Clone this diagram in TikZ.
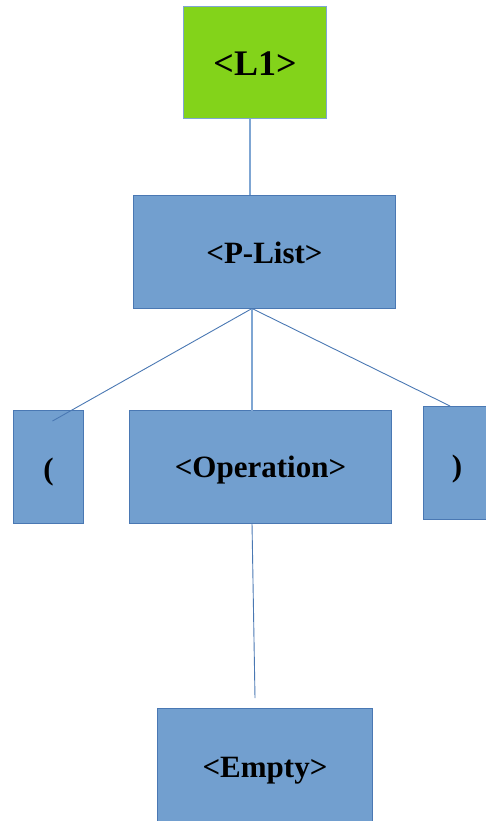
\documentclass[tikz,border=0pt]{standalone}
\usepackage{fontspec}
\setmainfont{Liberation Serif}
\definecolor{boxblue}{HTML}{729FCF}
\definecolor{edgeblue}{HTML}{4A78B3}
\definecolor{leafgreen}{HTML}{83D31A}
\definecolor{linklight}{HTML}{7FA6D3}
\begin{document}
\begin{tikzpicture}[x=1pt,y=-1pt,
  box/.style={draw=edgeblue, line width=1pt, fill=boxblue, rectangle, inner sep=0pt,
    text depth=0pt, font=\fontsize{31}{36}\selectfont\bfseries, text=black},
  rootbox/.style={box, fill=leafgreen, draw=linklight, font=\fontsize{36}{42}\selectfont\bfseries},
  link/.style={draw=edgeblue, line width=0.9pt},
  trunk/.style={draw=linklight, line width=2pt},
  label/.style={font=\fontsize{31}{36}\selectfont\bfseries, inner sep=0pt, text depth=0pt}]
\useasboundingbox (0,0) rectangle (485,821);

\node[rootbox, minimum width=142.5pt, minimum height=112.5pt] (l1) at (254.75,62.75) {};
\node[box, minimum width=262pt, minimum height=113.5pt] (plist) at (264.5,251.75) {};
\node[box, minimum width=69.5pt, minimum height=112.5pt] (lpar) at (48.25,466.75) {};
\node[box, minimum width=262pt, minimum height=112.5pt] (oper) at (260.5,466.75) {};
\node[box, minimum width=66pt, minimum height=113pt] (rpar) at (456.5,462.5) {};
\node[box, minimum width=214.5pt, minimum height=114.5pt] (empty) at (264.75,765.75) {};

% box captions, placed on a common baseline offset
\node[label, font=\fontsize{36}{42}\selectfont\bfseries] (l1t) at (255,64) {<L1>};
\node[label] (plistt) at (264.5,253) {<P-List>};
\node[label] (lpart) at (48.5,469) {(};
\node[label] (opert) at (260.5,467) {<Operation>};
\node[label] (rpart) at (457,466) {)};
\node[label] (emptyt) at (265,767) {<Empty>};

% attachment points of the branches
\coordinate (lroot) at (250,119);
\coordinate (ptop) at (250,195);
\coordinate (pfoot) at (252,308.5);
\coordinate (lparend) at (52.5,421);
\coordinate (opertop) at (252,410.5);
\coordinate (rparend) at (450,406);
\coordinate (operfoot) at (252,523);
\coordinate (emptyend) at (255,698);

\draw[trunk] (lroot) -- (ptop);
\draw[link] (pfoot) -- (lparend);
\draw[trunk] (pfoot) -- (opertop);
\draw[link] (pfoot) -- (rparend);
\draw[link] (operfoot) -- (emptyend);
\end{tikzpicture}
\end{document}
